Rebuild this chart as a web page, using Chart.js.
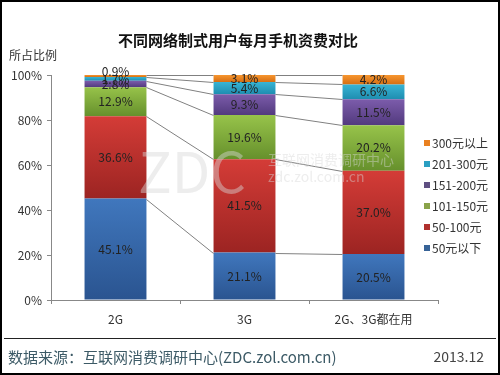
<!DOCTYPE html>
<html>
<head>
<meta charset="utf-8">
<script src="https://cdn.jsdelivr.net/npm/chart.js@4/dist/chart.umd.min.js"></script>
<style>
  html, body { margin: 0; padding: 0; background: #fff; }
  #wrap { width: 500px; height: 375px; position: relative; }
</style>
</head>
<body>
<div id="wrap"><canvas id="feeChart" width="500" height="375"></canvas></div>
<script>
const categories = ['2G', '3G', '2G、3G都在用'];
const seriesNames = ['50元以下', '50-100元', '101-150元', '151-200元', '201-300元', '300元以上'];
const under50 = [45.1, 21.1, 20.5];
const from50to100 = [36.6, 41.5, 37.0];
const from101to150 = [12.9, 19.6, 20.2];
const from151to200 = [2.8, 9.3, 11.5];
const from201to300 = [1.7, 5.4, 6.6];
const over300 = [0.9, 3.1, 4.2];
const yTicks = [0, 20, 40, 60, 80, 100];

const seriesValues = [under50, from50to100, from101to150, from151to200, from201to300, over300];
// top / bottom of each gradient, plus a flat colour for the legend
const colors = [
    ['#4077bd', '#2a5490', '#376397'],
    ['#d43c37', '#9c2422', '#b0302d'],
    ['#97c34a', '#66902c', '#8aa34a'],
    ['#7c5cab', '#523a7e', '#5f4f82'],
    ['#38b4d4', '#1e8db0', '#2b9fc2'],
    ['#f7962f', '#d66e12', '#e98020']
];
const FONT = "'Noto Sans CJK SC', 'DejaVu Sans', sans-serif";
Chart.defaults.font.family = FONT;

function stackBottom(ds, i) {
    let s = 0;
    for (let k = 0; k < ds; k++) s += seriesValues[k][i];
    return s;
}

function makeDataset(idx) {
    return {
        label: seriesNames[idx],
        data: seriesValues[idx],
        backgroundColor: ctx => {
            const y = ctx.chart.scales.y;
            if (ctx.type !== 'data' || !y) return colors[idx][2];
            const bottom = stackBottom(idx, ctx.dataIndex);
            const top = bottom + seriesValues[idx][ctx.dataIndex];
            const y0 = y.getPixelForValue(top), y1 = y.getPixelForValue(bottom);
            if (!isFinite(y0) || !isFinite(y1) || y0 === y1) return colors[idx][2];
            const g = ctx.chart.ctx.createLinearGradient(0, y0, 0, y1);
            g.addColorStop(0, colors[idx][0]);
            g.addColorStop(1, colors[idx][1]);
            return g;
        },
        borderWidth: 0,
        categoryPercentage: 1,
        barPercentage: 0.48
    };
}

const decorations = {
    id: 'decorations',
    afterDatasetsDraw(chart) {
        const c = chart.ctx;
        const y = chart.scales.y;
        // series lines between bars
        c.save();
        c.strokeStyle = '#808080';
        c.lineWidth = 1;
        for (let d = 0; d < seriesValues.length; d++) {
            const meta = chart.getDatasetMeta(d);
            for (let i = 0; i < categories.length - 1; i++) {
                const a = meta.data[i], b = meta.data[i + 1];
                const ya = y.getPixelForValue(stackBottom(d + 1, i));
                const yb = y.getPixelForValue(stackBottom(d + 1, i + 1));
                c.beginPath();
                c.moveTo(a.x + a.width / 2, Math.round(ya) + 0.5);
                c.lineTo(b.x - b.width / 2, Math.round(yb) + 0.5);
                c.stroke();
            }
        }
        // watermark
        c.fillStyle = 'rgba(215,215,215,0.45)';
        c.font = '56px ' + FONT;
        c.textBaseline = 'middle';
        c.textAlign = 'left';
        c.fillText('ZDC', 138, 172);
        c.font = '14px ' + FONT;
        c.fillText('互联网消费调研中心', 268, 160);
        c.fillText('zdc.zol.com.cn', 268, 177);
        // value labels
        c.fillStyle = '#222';
        c.font = '12px ' + FONT;
        c.textAlign = 'center';
        for (let d = 0; d < seriesValues.length; d++) {
            const meta = chart.getDatasetMeta(d);
            for (let i = 0; i < categories.length; i++) {
                const v = seriesValues[d][i];
                const mid = stackBottom(d, i) + v / 2;
                let py = y.getPixelForValue(mid);
                if (v < 1) py -= 5;
                c.fillText(v.toFixed(1) + '%', meta.data[i].x, py);
            }
        }
        c.restore();
    },
    afterDraw(chart) {
        const c = chart.ctx;
        c.save();
        c.textBaseline = 'middle';
        // title
        c.fillStyle = '#111';
        c.textAlign = 'center';
        c.font = 'bold 15px ' + FONT;
        c.fillText('不同网络制式用户每月手机资费对比', 238, 40);
        // axis title
        c.fillStyle = '#333';
        c.textAlign = 'left';
        c.font = '12px ' + FONT;
        c.fillText('所占比例', 9, 55);
        // legend
        for (let d = seriesNames.length - 1, row = 0; d >= 0; d--, row++) {
            const ly = 143 + row * 21;
            c.fillStyle = colors[d][2];
            c.fillRect(424, ly - 3, 6, 6);
            c.fillStyle = '#333';
            c.font = '12px ' + FONT;
            c.fillText(seriesNames[d], 432, ly);
        }
        // footer
        c.strokeStyle = '#222';
        c.lineWidth = 1;
        c.beginPath();
        c.moveTo(4, 338.5);
        c.lineTo(496, 338.5);
        c.stroke();
        c.fillStyle = '#3c5a66';
        c.font = '15px ' + FONT;
        c.fillText('数据来源：互联网消费调研中心(ZDC.zol.com.cn)', 8, 357);
        c.textAlign = 'right';
        c.fillStyle = '#444';
        c.font = '14px ' + FONT;
        c.fillText('2013.12', 484, 357);
        // frame
        c.strokeStyle = '#000';
        c.lineWidth = 2;
        c.strokeRect(1, 1, 498, 373);
        c.restore();
    }
};

new Chart(document.getElementById('feeChart').getContext('2d'), {
    type: 'bar',
    data: {
        labels: categories,
        datasets: seriesValues.map((_, i) => makeDataset(i))
    },
    options: {
        responsive: false,
        animation: false,
        layout: { padding: { top: 75, right: 62, bottom: 40, left: 0 } },
        plugins: {
            legend: { display: false },
            title: { display: false },
            tooltip: { enabled: false }
        },
        scales: {
            x: {
                stacked: true,
                grid: { drawOnChartArea: false, tickLength: 4, color: '#888' },
                border: { color: '#888' },
                ticks: { color: '#333', font: { size: 12 }, padding: 8 },
                afterFit: s => { s.height = 35; }
            },
            y: {
                stacked: true,
                min: 0,
                max: 100,
                afterBuildTicks: s => { s.ticks = yTicks.map(v => ({ value: v })); },
                grid: { drawOnChartArea: false, tickLength: 4, color: '#888' },
                border: { color: '#888' },
                ticks: { color: '#333', font: { size: 12 }, padding: 5, callback: v => v + '%' },
                afterFit: s => { s.width = 51; }
            }
        }
    },
    plugins: [decorations]
});
</script>
</body>
</html>
